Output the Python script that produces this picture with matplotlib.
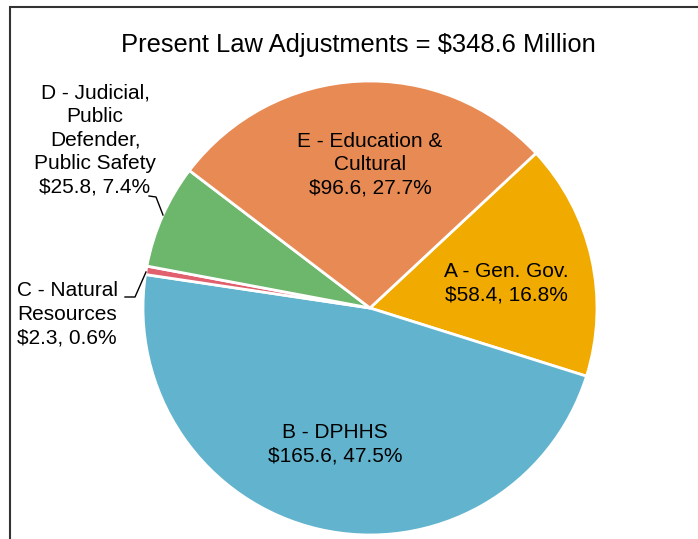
import matplotlib.pyplot as plt
from matplotlib.patches import Rectangle

plt.rcParams['font.family'] = ['Liberation Sans', 'DejaVu Sans']

# Data ($ millions)
codes = ['A', 'B', 'C', 'D', 'E']
names = ['Gen. Gov.', 'DPHHS', 'Natural\nResources',
         'Judicial,\nPublic\nDefender,\nPublic Safety', 'Education &\nCultural']
amounts = [58.4, 165.6, 2.3, 25.8, 96.6]
percents = [16.8, 47.5, 0.6, 7.4, 27.7]
colors = ['#F0AA00', '#62B4CE', '#E0606E', '#6DB76D', '#E88A53']
title = 'Present Law Adjustments = $348.6 Million'

W, H = 698, 539
fig = plt.figure(figsize=(W / 100, H / 100), dpi=100)
ax = fig.add_axes([0, 0, 1, 1])

cx, cy, r = 370, H - 308, 227
wedges, _ = ax.pie(percents, colors=colors, startangle=43, counterclock=False,
                   center=(cx, cy), radius=r, frame=True,
                   wedgeprops=dict(edgecolor='white', linewidth=2))
ax.set_xlim(0, W)
ax.set_ylim(0, H)
ax.set_aspect('equal')
ax.axis('off')

labels = [f'{c} - {n}\n${a:.1f}, {p:.1f}%' for c, n, a, p in zip(codes, names, amounts, percents)]

fs = 15
ls = 1.3
# inside labels
ax.text(506, H - 283, labels[0], ha='center', va='center', fontsize=fs, linespacing=ls)
ax.text(335, H - 444, labels[1], ha='center', va='center', fontsize=fs, linespacing=ls)
ax.text(370, H - 165, labels[4], ha='center', va='center', fontsize=fs, linespacing=ls)
# outside labels
ax.text(95, H - 140, labels[3], ha='center', va='center', fontsize=fs, linespacing=ls)
ax.text(17, H - 314, labels[2], ha='left', va='center', fontsize=fs, linespacing=ls)

# leader lines
ax.plot([149, 156, 163], [H - 196, H - 197, H - 215], color='black', lw=1)
ax.plot([125, 135, 146], [H - 297, H - 297, H - 272], color='black', lw=1)

ax.text(358, H - 45, title, ha='center', va='center', fontsize=18.4)

# chart frame (cut off at right and bottom)
ax.add_patch(Rectangle((9.5, -10), 700, H - 6.5 + 10, fill=False,
                       edgecolor='#333333', lw=1.5, clip_on=False))

fig.savefig('out.png', dpi=100)
